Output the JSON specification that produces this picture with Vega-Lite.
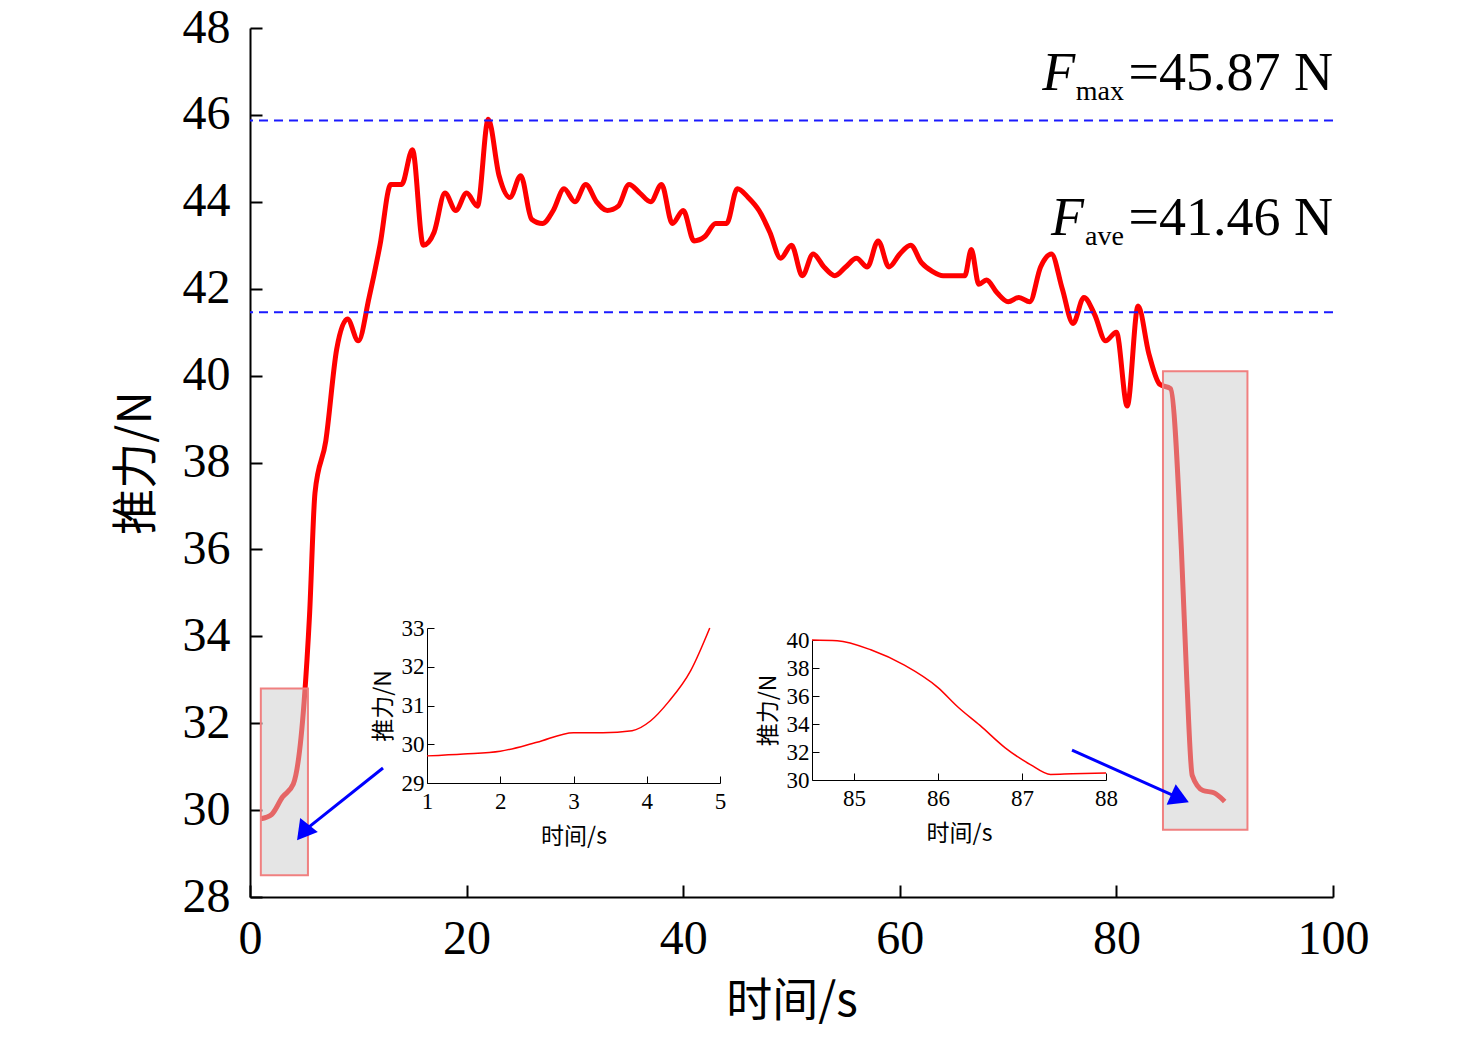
{
  "$schema": "https://vega.github.io/schema/vega-lite/v6.json",
  "width": 1083,
  "height": 869,
  "autosize": "none",
  "padding": {"left": 250, "top": 28, "right": 143, "bottom": 146},
  "config": {"view": {"stroke": null}, "font": "Liberation Serif", "axis": {"labelFont": "Liberation Serif"}},
  "datasets": {
    "thrust": [
      {"t":1,"f":29.8},{"t":2,"f":29.9},{"t":3,"f":30.3},{"t":4,"f":30.6},{"t":5,"f":32.5},{"t":5.5,"f":34.5},{"t":6,"f":37.3},{"t":7,"f":38.5},{"t":8,"f":40.6},{"t":9,"f":41.3},{"t":10,"f":40.8},{"t":11,"f":41.8},{"t":12,"f":43},{"t":13,"f":44.4},{"t":14,"f":44.4},{"t":15,"f":45.2},{"t":16,"f":43.0},{"t":17,"f":43.3},{"t":18,"f":44.2},{"t":19,"f":43.8},{"t":20,"f":44.2},{"t":21,"f":43.9},{"t":22,"f":45.9},{"t":23,"f":44.6},{"t":24,"f":44.1},{"t":25,"f":44.6},{"t":26,"f":43.6},{"t":27,"f":43.5},{"t":28,"f":43.8},{"t":29,"f":44.3},{"t":30,"f":44},{"t":31,"f":44.4},{"t":32,"f":44},{"t":33,"f":43.8},{"t":34,"f":43.9},{"t":35,"f":44.4},{"t":36,"f":44.2},{"t":37,"f":44.0},{"t":38,"f":44.4},{"t":39,"f":43.5},{"t":40,"f":43.8},{"t":41,"f":43.1},{"t":42,"f":43.2},{"t":43,"f":43.5},{"t":44,"f":43.5},{"t":45,"f":44.3},{"t":46,"f":44.1},{"t":47,"f":43.8},{"t":48,"f":43.3},{"t":49,"f":42.7},{"t":50,"f":43},{"t":51,"f":42.3},{"t":52,"f":42.8},{"t":53,"f":42.5},{"t":54,"f":42.3},{"t":55,"f":42.5},{"t":56,"f":42.7},{"t":57,"f":42.5},{"t":58,"f":43.1},{"t":59,"f":42.5},{"t":60,"f":42.8},{"t":61,"f":43},{"t":62,"f":42.6},{"t":63,"f":42.4},{"t":64,"f":42.3},{"t":65,"f":42.3},{"t":66,"f":42.3},{"t":66.6,"f":42.9},{"t":67.3,"f":42.1},{"t":68,"f":42.2},{"t":69,"f":41.9},{"t":70,"f":41.7},{"t":71,"f":41.8},{"t":72,"f":41.7},{"t":73,"f":42.5},{"t":74,"f":42.8},{"t":75,"f":42},{"t":76,"f":41.2},{"t":77,"f":41.8},{"t":78,"f":41.4},{"t":79,"f":40.8},{"t":80,"f":41},{"t":81,"f":39.3},{"t":82,"f":41.6},{"t":83,"f":40.5},{"t":84,"f":39.8},{"t":85,"f":39.7},{"t":86,"f":36},{"t":86.5,"f":33},{"t":87,"f":30.8},{"t":88,"f":30.45},{"t":89,"f":30.4},{"t":90,"f":30.2}
    ],
    "boxes": [
      {"x1":1.0,"x2":5.35,"y1":28.5,"y2":32.8},
      {"x1":84.3,"x2":92.1,"y1":29.55,"y2":40.1}
    ],
    "refs": [{"v":45.87},{"v":41.46}],
    "arrows": [
      {"id":"a","x":12.28,"y":30.97,"end":false,"angle":0},
      {"id":"a","x":5.08,"y":29.54,"end":true,"angle":218},
      {"id":"b","x":75.9,"y":31.38,"end":false,"angle":0},
      {"id":"b","x":85.6,"y":30.3,"end":true,"angle":114}
    ],
    "labels": [
      {"x":100,"y":46.57,"txt":"=45.87 N","size":54},
      {"x":80.7,"y":46.35,"txt":"max","size":28},
      {"x":100,"y":43.24,"txt":"=41.46 N","size":54},
      {"x":80.7,"y":43.0,"txt":"ave","size":28}
    ],
    "flabels": [
      {"x":76.2,"y":46.57,"txt":"F"},
      {"x":77.0,"y":43.24,"txt":"F"}
    ],
    "inset1": [
      {"t":1,"f":29.7},{"t":1.5,"f":29.75},{"t":2,"f":29.82},{"t":2.5,"f":30.05},{"t":3,"f":30.3},{"t":3.4,"f":30.3},{"t":3.8,"f":30.35},{"t":4.05,"f":30.6},{"t":4.3,"f":31.1},{"t":4.6,"f":31.9},{"t":4.86,"f":33}
    ],
    "inset2": [
      {"t":84.5,"f":40},{"t":84.8,"f":39.95},{"t":85.2,"f":39.3},{"t":85.6,"f":38.2},{"t":86,"f":36.6},{"t":86.24,"f":35.2},{"t":86.5,"f":33.9},{"t":86.8,"f":32.3},{"t":87.1,"f":31.1},{"t":87.34,"f":30.4},{"t":87.6,"f":30.45},{"t":88,"f":30.5}
    ]
  },
  "resolve": {"scale": {"x": "independent", "y": "independent"}, "axis": {"x": "independent", "y": "independent"}},
  "layer": [
    {
      "layer": [
        {
          "data": {"name": "thrust"},
          "mark": {"type": "line", "color": "#ff0000", "strokeWidth": 5, "interpolate": "monotone"},
          "encoding": {
            "x": {"field": "t", "type": "quantitative", "title": "时间/s", "scale": {"domain": [0, 100], "nice": false},
              "axis": {"titleFont": "Noto Sans CJK SC", "titleFontSize": 46, "titleFontWeight": "normal", "titleColor": "black", "titlePadding": 16, "labelFontSize": 48, "labelColor": "black", "values": [0,20,40,60,80,100], "tickSize": -12, "tickColor": "black", "domainColor": "black", "domainWidth": 2, "tickWidth": 2, "labelPadding": 30, "grid": false, "labelFlush": false}},
            "y": {"field": "f", "type": "quantitative", "title": "推力/N", "scale": {"domain": [28, 48], "nice": false, "zero": false},
              "axis": {"titleFont": "Noto Sans CJK SC", "titleFontSize": 46, "titleFontWeight": "normal", "titleColor": "black", "titlePadding": 22, "labelFontSize": 48, "labelColor": "black", "values": [28,30,32,34,36,38,40,42,44,46,48], "tickSize": -12, "tickColor": "black", "domainColor": "black", "domainWidth": 2, "tickWidth": 2, "labelPadding": 32, "grid": false, "labelFlush": false}}
          }
        },
        {
          "data": {"name": "boxes"},
          "mark": {"type": "rect", "fill": "#cccccc", "fillOpacity": 0.5, "stroke": "#f08080", "strokeWidth": 2},
          "encoding": {
            "x": {"field": "x1", "type": "quantitative", "title": "时间/s"},
            "x2": {"field": "x2"},
            "y": {"field": "y1", "type": "quantitative", "title": "推力/N"},
            "y2": {"field": "y2"}
          }
        },
        {
          "data": {"name": "refs"},
          "mark": {"type": "rule", "color": "#1a1aff", "strokeWidth": 2, "strokeDash": [9, 6]},
          "encoding": {"y": {"field": "v", "type": "quantitative", "title": "推力/N"}}
        },
        {
          "data": {"name": "arrows"},
          "mark": {"type": "line", "color": "#0000ff", "strokeWidth": 3},
          "encoding": {
            "x": {"field": "x", "type": "quantitative", "title": "时间/s"},
            "y": {"field": "y", "type": "quantitative", "title": "推力/N"},
            "detail": {"field": "id"}
          }
        },
        {
          "data": {"name": "arrows"},
          "transform": [{"filter": "datum.end"}],
          "mark": {"type": "point", "shape": "triangle", "filled": true, "color": "#0000ff", "size": 500, "opacity": 1},
          "encoding": {
            "x": {"field": "x", "type": "quantitative", "title": "时间/s"},
            "y": {"field": "y", "type": "quantitative", "title": "推力/N"},
            "angle": {"field": "angle", "type": "quantitative", "scale": null}
          }
        },
        {
          "data": {"name": "labels"},
          "mark": {"type": "text", "align": "right", "baseline": "alphabetic", "color": "black", "font": "Liberation Serif"},
          "encoding": {
            "x": {"field": "x", "type": "quantitative", "title": "时间/s"},
            "y": {"field": "y", "type": "quantitative", "title": "推力/N"},
            "text": {"field": "txt"},
            "size": {"field": "size", "type": "quantitative", "scale": null}
          }
        },
        {
          "data": {"name": "flabels"},
          "mark": {"type": "text", "align": "right", "baseline": "alphabetic", "color": "black", "font": "Liberation Serif", "fontStyle": "italic", "fontSize": 54},
          "encoding": {
            "x": {"field": "x", "type": "quantitative", "title": "时间/s"},
            "y": {"field": "y", "type": "quantitative", "title": "推力/N"},
            "text": {"field": "txt"}
          }
        }
      ]
    },
    {
      "data": {"name": "inset1"},
      "mark": {"type": "line", "color": "#ff0000", "strokeWidth": 1.5, "interpolate": "monotone"},
      "encoding": {
        "x": {"field": "t", "type": "quantitative", "scale": {"domain": [1, 5], "range": [177, 470], "nice": false},
          "axis": {"orient": "bottom", "offset": -114, "title": "时间/s", "titleFont": "Noto Sans CJK SC", "titleFontSize": 23, "titleFontWeight": "normal", "titleColor": "black", "titlePadding": 12, "labelFontSize": 23, "labelColor": "black", "values": [1,2,3,4,5], "tickSize": -7, "tickColor": "black", "domainColor": "black", "labelPadding": 14, "grid": false, "labelFlush": false}},
        "y": {"field": "f", "type": "quantitative", "scale": {"domain": [29, 33], "range": [755, 600], "nice": false, "zero": false},
          "axis": {"orient": "left", "offset": -177, "title": "推力/N", "titleFont": "Noto Sans CJK SC", "titleFontSize": 23, "titleFontWeight": "normal", "titleColor": "black", "titlePadding": 6, "labelFontSize": 23, "labelColor": "black", "values": [29,30,31,32,33], "tickSize": -7, "tickColor": "black", "domainColor": "black", "labelPadding": 10, "grid": false, "labelFlush": false}}
      }
    },
    {
      "data": {"name": "inset2"},
      "mark": {"type": "line", "color": "#ff0000", "strokeWidth": 1.5, "interpolate": "monotone"},
      "encoding": {
        "x": {"field": "t", "type": "quantitative", "scale": {"domain": [84.5, 88], "range": [562, 856], "nice": false},
          "axis": {"orient": "bottom", "offset": -117, "title": "时间/s", "titleFont": "Noto Sans CJK SC", "titleFontSize": 23, "titleFontWeight": "normal", "titleColor": "black", "titlePadding": 12, "labelFontSize": 23, "labelColor": "black", "values": [85,86,87,88], "tickSize": -7, "tickColor": "black", "domainColor": "black", "labelPadding": 14, "grid": false, "labelFlush": false}},
        "y": {"field": "f", "type": "quantitative", "scale": {"domain": [30, 40], "range": [752, 612], "nice": false, "zero": false},
          "axis": {"orient": "left", "offset": -562, "title": "推力/N", "titleFont": "Noto Sans CJK SC", "titleFontSize": 23, "titleFontWeight": "normal", "titleColor": "black", "titlePadding": 6, "labelFontSize": 23, "labelColor": "black", "values": [30,32,34,36,38,40], "tickSize": -7, "tickColor": "black", "domainColor": "black", "labelPadding": 10, "grid": false, "labelFlush": false}}
      }
    }
  ]
}
